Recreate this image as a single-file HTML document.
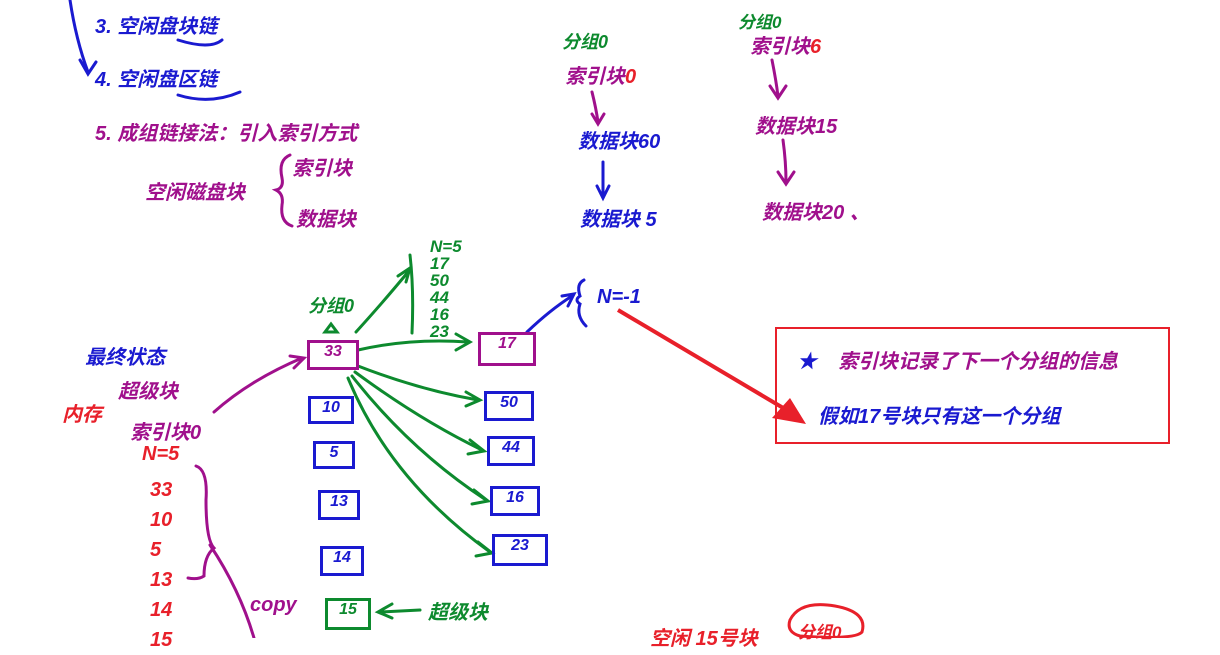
<!DOCTYPE html>
<html><head><meta charset="utf-8"><style>
body{margin:0;width:1220px;height:638px;background:#fff;position:relative;overflow:hidden;font-family:"Liberation Sans","Noto Sans CJK SC",sans-serif}
.t{position:absolute;white-space:nowrap;font-size:20px;font-style:italic;font-weight:bold}
.b{color:#1a1ad0}.p{color:#a0108c}.g{color:#0d8a2e}.r{color:#e8202a}
.bx{position:absolute;border:3px solid;font-size:16px;font-weight:bold;text-align:center;font-style:italic}
</style></head><body>
<svg width="1220" height="638" style="position:absolute;left:0;top:0">
<g fill="none" stroke-width="3" stroke-linecap="round">
<path d="M70 0 Q76 40 88 72 M80 60 L88 74 L96 62" stroke="#1a1ad0"/>
<path d="M178 40 Q210 50 222 40" stroke="#1a1ad0"/>
<path d="M178 95 Q210 105 240 92" stroke="#1a1ad0"/>
<path d="M290 155 Q278 160 282 178 Q284 188 276 190 Q284 194 282 205 Q280 222 292 226" stroke="#a0108c"/>
<path d="M592 92 Q596 108 598 122 M592 114 L598 124 L604 114" stroke="#a0108c"/>
<path d="M603 162 L603 198 M597 186 L603 198 L609 186" stroke="#1a1ad0"/>
<path d="M772 60 Q776 80 778 96 M770 86 L778 98 L786 86" stroke="#a0108c"/>
<path d="M783 140 Q786 162 786 182 M778 172 L786 184 L794 172" stroke="#a0108c"/>
<path d="M356 332 Q385 300 408 272 M398 276 L410 268 L406 282" stroke="#0d8a2e"/>
<path d="M410 255 Q414 290 412 333" stroke="#0d8a2e"/>
<path d="M358 350 Q410 338 468 342 M456 334 L470 342 L456 350" stroke="#0d8a2e"/>
<path d="M358 366 Q420 390 478 400 M466 392 L480 400 L466 406" stroke="#0d8a2e"/>
<path d="M355 372 Q420 420 482 450 M470 440 L484 451 L468 454" stroke="#0d8a2e"/>
<path d="M352 376 Q410 450 486 500 M474 490 L488 501 L472 504" stroke="#0d8a2e"/>
<path d="M348 378 Q390 480 490 552 M478 542 L492 553 L476 556" stroke="#0d8a2e"/>
<path d="M214 412 Q250 380 302 358 M290 356 L304 358 L294 368" stroke="#a0108c"/>
<path d="M527 332 Q550 310 572 296 M562 296 L574 294 L568 306" stroke="#1a1ad0"/>
<path d="M584 280 Q576 284 580 296 Q574 300 580 304 Q576 316 586 326" stroke="#1a1ad0"/>
<path d="M196 466 Q208 470 206 500 Q206 540 214 548 Q204 556 204 576 Q198 580 188 578" stroke="#a0108c"/>
<path d="M210 545 Q240 590 254 638" stroke="#a0108c"/>
<path d="M420 610 L380 612 M392 604 L378 612 L392 618" stroke="#0d8a2e"/>
<path d="M325 332 L331 324 L337 332 Z" stroke="#0d8a2e"/>
<path d="M790 620 Q800 600 835 606 Q868 612 862 632 Q855 640 800 636 Q786 632 790 620" stroke="#e8202a"/>
</g>
<path d="M618 310 L790 412" stroke="#e8202a" stroke-width="4"/>
<path d="M806 424 L772 418 L790 398 Z" fill="#e8202a"/>
<rect x="776" y="328" width="393" height="115" fill="none" stroke="#e8202a" stroke-width="2"/>
</svg>
<div class="t b" style="left:95px;top:10px">3. 空闲盘块链</div>
<div class="t b" style="left:95px;top:63px">4. 空闲盘区链</div>
<div class="t p" style="left:95px;top:117px">5. 成组链接法：引入索引方式</div>
<div class="t p" style="left:145px;top:176px">空闲磁盘块</div>
<div class="t p" style="left:292px;top:152px">索引块</div>
<div class="t p" style="left:296px;top:203px">数据块</div>
<div class="t g" style="left:562px;top:28px;font-size:18px">分组0</div>
<div class="t p" style="left:565px;top:60px">索引块<span class="r">0</span></div>
<div class="t b" style="left:578px;top:125px">数据块60</div>
<div class="t b" style="left:580px;top:203px">数据块 5</div>
<div class="t g" style="left:738px;top:8px;font-size:17px">分组0</div>
<div class="t p" style="left:750px;top:30px">索引块<span class="r">6</span></div>
<div class="t p" style="left:755px;top:110px">数据块15</div>
<div class="t p" style="left:762px;top:196px">数据块20 、</div>
<div class="t g" style="left:430px;top:238px;font-size:17px;line-height:17px">N=5<br>17<br>50<br>44<br>16<br>23</div>
<div class="t g" style="left:308px;top:292px;font-size:18px">分组0</div>
<div class="t b" style="left:597px;top:286px">N=-1</div>
<div class="t b" style="left:85px;top:341px">最终状态</div>
<div class="t p" style="left:118px;top:375px">超级块</div>
<div class="t r" style="left:62px;top:398px">内存</div>
<div class="t p" style="left:130px;top:416px">索引块0</div>
<div class="t r" style="left:142px;top:443px">N=5</div>
<div class="t r" style="left:150px;top:475px;line-height:30px">33<br>10<br>5<br>13<br>14<br>15</div>
<div class="bx p" style="left:307px;top:340px;width:46px;height:24px;border-color:#a0108c">33</div>
<div class="bx b" style="left:308px;top:396px;width:40px;height:22px;border-color:#1a1ad0">10</div>
<div class="bx b" style="left:313px;top:441px;width:36px;height:22px;border-color:#1a1ad0">5</div>
<div class="bx b" style="left:318px;top:490px;width:36px;height:24px;border-color:#1a1ad0">13</div>
<div class="bx b" style="left:320px;top:546px;width:38px;height:24px;border-color:#1a1ad0">14</div>
<div class="bx g" style="left:325px;top:598px;width:40px;height:26px;border-color:#0d8a2e">15</div>
<div class="t g" style="left:428px;top:596px">超级块</div>
<div class="bx p" style="left:478px;top:332px;width:52px;height:28px;border-color:#a0108c">17</div>
<div class="bx b" style="left:484px;top:391px;width:44px;height:24px;border-color:#1a1ad0">50</div>
<div class="bx b" style="left:487px;top:436px;width:42px;height:24px;border-color:#1a1ad0">44</div>
<div class="bx b" style="left:490px;top:486px;width:44px;height:24px;border-color:#1a1ad0">16</div>
<div class="bx b" style="left:492px;top:534px;width:50px;height:26px;border-color:#1a1ad0">23</div>
<div class="t b" style="left:797px;top:345px">★</div>
<div class="t p" style="left:838px;top:345px">索引块记录了下一个分组的信息</div>
<div class="t b" style="left:818px;top:400px">假如17号块只有这一个分组</div>
<div class="t p" style="left:250px;top:594px">copy</div>
<div class="t r" style="left:650px;top:622px">空闲 15号块</div>
<div class="t r" style="left:798px;top:618px;font-size:17px">分组0</div>
</body></html>
